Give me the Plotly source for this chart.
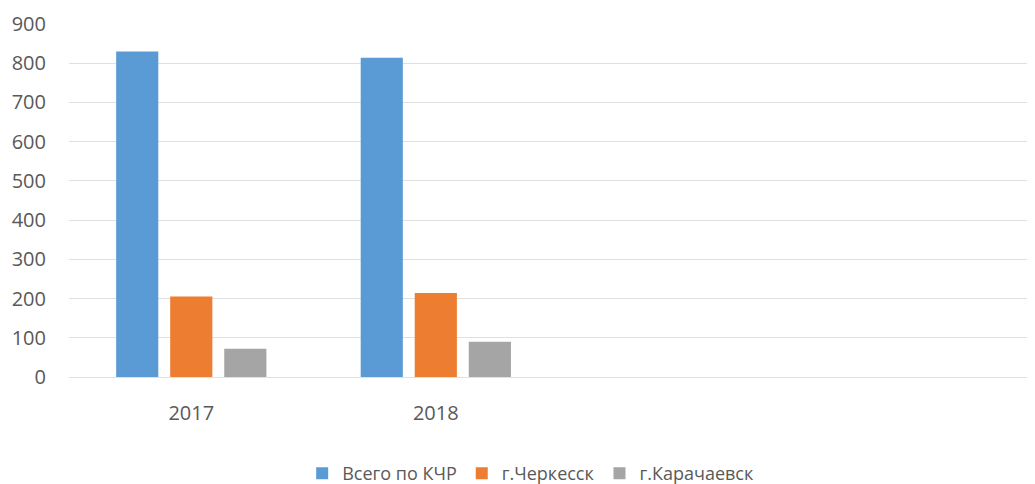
import plotly.graph_objects as go

years = ["2017", "2018"]
series_names = ["Всего по КЧР", "г.Черкесск", "г.Карачаевск"]
total_kchr = [830, 814]
cherkessk = [205, 214]
karachaevsk = [72, 90]
colors = ["#5b9bd5", "#ed7d31", "#a5a5a5"]
y_ticks = [0, 100, 200, 300, 400, 500, 600, 700, 800, 900]

fig = go.Figure()
for name, vals, col in zip(series_names, [total_kchr, cherkessk, karachaevsk], colors):
    fig.add_trace(go.Bar(x=years, y=vals, name=name, marker=dict(color=col, line=dict(width=0))))

fig.update_layout(
    width=1035, height=484,
    margin=dict(l=61, r=0, t=16, b=115),
    plot_bgcolor="white", paper_bgcolor="white",
    barmode="group", bargap=0.337, bargroupgap=0.22,
    font=dict(family="Open Sans, Liberation Sans, sans-serif", size=20, color="#595959"),
    showlegend=True,
    legend=dict(orientation="h", xref="container", x=0.505, xanchor="center",
                yref="container", y=0.0, yanchor="bottom",
                font=dict(size=18, color="#595959"), itemwidth=30, traceorder="normal"),
    xaxis=dict(type="category", range=[-0.5, 3.483], showgrid=False, showline=False,
               ticks="", ticklabelstandoff=22, fixedrange=True),
    yaxis=dict(range=[0, 900], tickvals=y_ticks, showgrid=True, gridcolor="#e0e0e0",
               gridwidth=1, zeroline=True, zerolinecolor="#e0e0e0", zerolinewidth=1,
               showline=False, ticks="", ticklabelstandoff=22),
)

fig.write_html("out.html")
